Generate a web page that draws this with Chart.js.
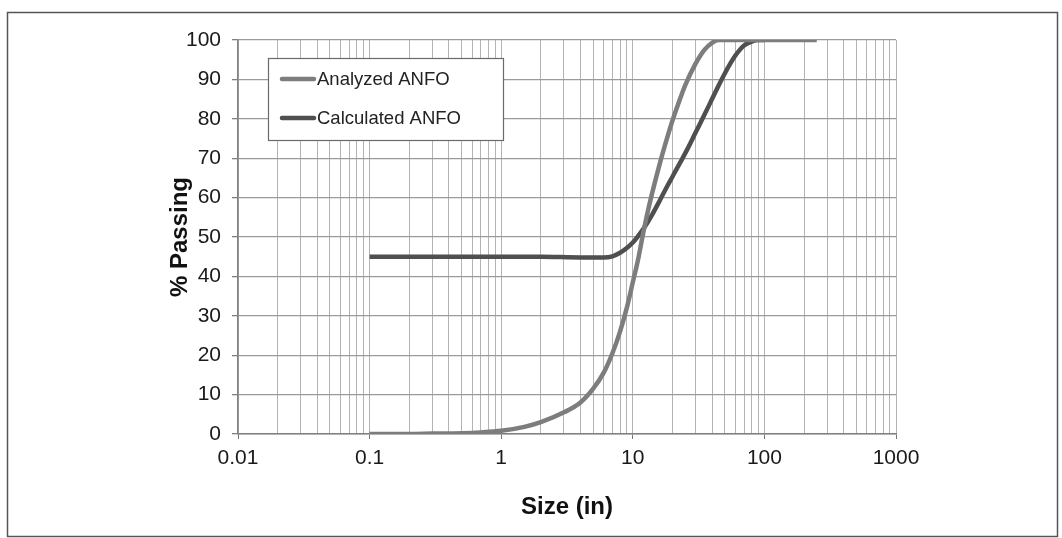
<!DOCTYPE html>
<html>
<head>
<meta charset="utf-8">
<script src="https://cdn.jsdelivr.net/npm/chart.js@4/dist/chart.umd.min.js"></script>
<style>
  html, body { margin: 0; padding: 0; background: #ffffff; }
  #wrap { width: 1062px; height: 538px; position: relative; }
</style>
</head>
<body>
<div id="wrap"><canvas id="c" width="1062" height="538"></canvas></div>
<script>
// ---- data ----
const analyzedSize    = [0.1, 0.2, 0.3, 0.5, 0.7, 1, 1.5, 2, 3, 4, 5, 6, 7, 8, 9, 10, 11, 12, 13, 14, 16, 18, 20, 22, 25, 30, 35, 40, 45, 100, 250];
const analyzedPassing = [0, 0, 0.1, 0.2, 0.4, 0.8, 1.8, 3, 5.5, 8, 11.5, 15.5, 20.5, 26, 32, 38.5, 44.5, 51, 56.5, 61, 68.5, 74.5, 79.5, 83.5, 88.5, 94, 97.5, 99.3, 100, 100, 100];
const calculatedSize    = [0.1, 0.2, 0.5, 1, 2, 4, 6, 7, 8, 9, 10, 11, 12, 13, 14, 16, 18, 20, 23, 26, 30, 35, 40, 45, 50, 55, 60, 65, 70, 80, 90, 100];
const calculatedPassing = [45, 45, 45, 45, 45, 44.8, 44.8, 45.1, 46.0, 47.2, 48.6, 50.3, 52, 53.8, 55.6, 59.2, 62.5, 65.3, 69, 72.3, 76.5, 81, 85, 88.5, 91.5, 94, 96, 97.5, 98.6, 99.6, 100, 100];
const seriesNames = ['Analyzed ANFO', 'Calculated ANFO'];
const xDecades = [0.01, 0.1, 1, 10, 100, 1000];
const xTickLabels = ['0.01', '0.1', '1', '10', '100', '1000'];
const yTickValues = [0, 10, 20, 30, 40, 50, 60, 70, 80, 90, 100];
const xTitle = 'Size (in)';
const yTitle = '% Passing';

const colAnalyzed = '#7d7d7d';
const colCalculated = '#4f4f4f';
const FONT = '"Liberation Sans", Arial, sans-serif';

function toPoints(xs, ys) { return xs.map((x, i) => ({ x: x, y: ys[i] })); }
function isDecade(v) { const l = Math.log10(v); return Math.abs(l - Math.round(l)) < 1e-9; }

// all log minor positions 1..9 x decade
const xGridValues = [];
for (let d = 0; d < xDecades.length; d++) {
  for (let m = 1; m <= 9; m++) {
    const v = +(xDecades[d] * m).toPrecision(6);
    if (v <= xDecades[xDecades.length - 1]) xGridValues.push(v);
  }
}

const framePlugin = {
  id: 'frame',
  beforeDraw(chart) {
    const ctx = chart.ctx;
    ctx.save();
    ctx.fillStyle = '#ffffff';
    ctx.fillRect(0, 0, chart.width, chart.height);
    ctx.restore();
  },
  afterDraw(chart) {
    const ctx = chart.ctx;
    ctx.save();
    // outer border
    ctx.strokeStyle = '#555555';
    ctx.lineWidth = 1.5;
    ctx.strokeRect(7.5, 12.5, 1050, 524);
    // legend box
    const lx = 268, ly = 58, lw = 235, lh = 82;
    ctx.fillStyle = '#ffffff';
    ctx.fillRect(lx, ly, lw, lh);
    ctx.strokeStyle = '#6a6a6a';
    ctx.lineWidth = 1.2;
    ctx.strokeRect(lx + 0.5, ly + 0.5, lw, lh);
    const rows = [79, 118];
    chart.data.datasets.forEach((ds, i) => {
      const y = rows[i];
      ctx.strokeStyle = ds.borderColor;
      ctx.lineWidth = 4.5;
      ctx.lineCap = 'round';
      ctx.beginPath();
      ctx.moveTo(282, y);
      ctx.lineTo(314, y);
      ctx.stroke();
      ctx.fillStyle = '#222222';
      ctx.font = '18.5px ' + FONT;
      ctx.textBaseline = 'middle';
      ctx.textAlign = 'left';
      ctx.fillText(ds.label, 317, y + 1);
    });
    ctx.restore();
  }
};

new Chart(document.getElementById('c'), {
  type: 'line',
  data: {
    datasets: [
      {
        label: seriesNames[0],
        data: toPoints(analyzedSize, analyzedPassing),
        borderColor: colAnalyzed,
        backgroundColor: colAnalyzed,
        borderWidth: 4.5,
        pointRadius: 0,
        cubicInterpolationMode: 'monotone',
        fill: false
      },
      {
        label: seriesNames[1],
        data: toPoints(calculatedSize, calculatedPassing),
        borderColor: colCalculated,
        backgroundColor: colCalculated,
        borderWidth: 4.5,
        pointRadius: 0,
        cubicInterpolationMode: 'monotone',
        fill: false
      }
    ]
  },
  options: {
    responsive: false,
    animation: false,
    devicePixelRatio: 1,
    layout: { padding: { left: 160, top: 40, right: 166, bottom: 10 } },
    plugins: { legend: { display: false }, tooltip: { enabled: false } },
    scales: {
      x: {
        type: 'logarithmic',
        min: xDecades[0],
        max: xDecades[xDecades.length - 1],
        afterBuildTicks(scale) { scale.ticks = xGridValues.map(v => ({ value: v })); },
        afterFit(scale) { scale.height = 94; },
        ticks: {
          autoSkip: false,
          maxRotation: 0,
          minRotation: 0,
          padding: 7,
          color: '#1a1a1a',
          font: { family: FONT, size: 21 },
          callback(value) {
            const i = xDecades.findIndex(d => Math.abs(d - value) / d < 1e-9);
            return i >= 0 ? xTickLabels[i] : '';
          }
        },
        grid: {
          color: '#b4b4b4',
          lineWidth: 1,
          tickLength: 5,
          tickColor(ctx) { return ctx.tick && isDecade(ctx.tick.value) ? '#777777' : 'rgba(0,0,0,0)'; }
        },
        border: { color: '#808080', width: 1.5 },
        title: {
          display: true,
          text: xTitle,
          color: '#111111',
          font: { family: FONT, size: 24, weight: 'bold' },
          padding: { top: 0, bottom: 6 }
        }
      },
      y: {
        min: 0,
        max: 100,
        afterBuildTicks(scale) { scale.ticks = yTickValues.map(v => ({ value: v })); },
        afterFit(scale) { scale.width = 78; },
        ticks: {
          padding: 11,
          color: '#1a1a1a',
          font: { family: FONT, size: 21 }
        },
        grid: {
          color: '#9a9a9a',
          lineWidth: 1.3,
          tickLength: 6,
          tickColor: '#808080'
        },
        border: { color: '#808080', width: 1.5 },
        title: {
          display: true,
          text: yTitle,
          color: '#111111',
          font: { family: FONT, size: 24, weight: 'bold' },
          padding: { top: 6, bottom: 0 }
        }
      }
    }
  },
  plugins: [framePlugin]
});
</script>
</body>
</html>
